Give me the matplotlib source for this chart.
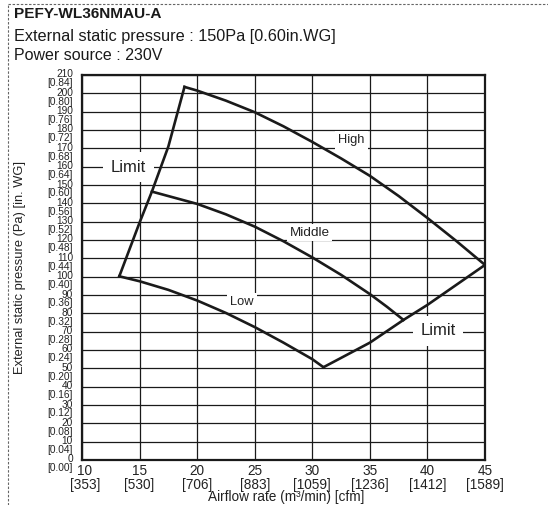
import matplotlib
matplotlib.use("Agg")
import matplotlib.pyplot as plt
import matplotlib.transforms as mtransforms
from matplotlib.lines import Line2D

plt.rcParams["font.family"] = ["Liberation Sans", "DejaVu Sans"]

# fan curve data (airflow m3/min, static pressure Pa)
high_x = [18.9, 20, 22.5, 25, 27.5, 30, 32.5, 35, 37.5, 40, 42.5, 45]
high_y = [203.5, 201.5, 196.0, 189.7, 182.0, 173.5, 164.5, 155.0, 144.0, 132.0, 119.5, 106.4]
middle_x = [16.07, 20, 22.5, 25, 27.5, 30, 32.5, 35, 36.5, 37.92]
middle_y = [146.4, 139.7, 134.0, 127.3, 119.3, 110.5, 101.0, 90.5, 83.5, 76.4]
low_x = [13.24, 15, 17.5, 20, 22.5, 25, 27.5, 30, 30.97]
low_y = [100.2, 97.5, 92.8, 87.0, 80.2, 72.5, 64.0, 55.0, 50.6]
limit_left_x = [13.24, 15, 16.07, 17.5, 18.9]
limit_left_y = [100.2, 129.5, 146.4, 171.0, 203.5]
limit_right_x = [30.97, 35, 37.92, 40, 45]
limit_right_y = [50.6, 64.0, 76.4, 84.6, 106.4]

x_ticks = [10, 15, 20, 25, 30, 35, 40, 45]
x_cfm = [353, 530, 706, 883, 1059, 1236, 1412, 1589]
y_ticks = list(range(0, 211, 10))
y_inwg = [v * 0.004 for v in y_ticks]

W, H = 548, 505
fig = plt.figure(figsize=(W / 100, H / 100), dpi=100)
ax = fig.add_axes([82 / W, 1 - 460 / H, 403 / W, 385 / H])
ax.set_xlim(10, 45)
ax.set_ylim(0, 210)

ax.set_xticks(x_ticks)
ax.set_xticklabels([f"{a}\n[{b}]" for a, b in zip(x_ticks, x_cfm)], fontsize=9.8,
                   linespacing=0.95)
ax.set_yticks(y_ticks)
ax.set_yticklabels([f"{a}\n[{b:.2f}]" for a, b in zip(y_ticks, y_inwg)], fontsize=7.3,
                   linespacing=0.85)
ax.tick_params(axis="both", length=0, colors="#222222")
ax.tick_params(axis="y", pad=6.5)
ax.tick_params(axis="x", pad=3)
shift = mtransforms.ScaledTranslation(0, -3.5 / 100, fig.dpi_scale_trans)
for lbl in ax.get_yticklabels():
    lbl.set_multialignment("right")
    lbl.set_transform(lbl.get_transform() + shift)
xshift = mtransforms.ScaledTranslation(3 / 100, 0, fig.dpi_scale_trans)
ax.get_xticklabels()[0].set_transform(ax.get_xticklabels()[0].get_transform() + xshift)

ax.grid(True, color="#1a1a1a", lw=0.9, zorder=1)
ax.set_axisbelow(True)
for s in ax.spines.values():
    s.set_linewidth(1.6)
    s.set_color("#1a1a1a")

lw = 1.9
for xs, ys in [(high_x, high_y), (middle_x, middle_y), (low_x, low_y),
               (limit_left_x, limit_left_y), (limit_right_x, limit_right_y)]:
    ax.plot(xs, ys, color="#1a1a1a", lw=lw, solid_joinstyle="round", zorder=4)

box = dict(facecolor="white", edgecolor="none", boxstyle="square")
ax.text(14.03, 159.7, "Limit", fontsize=12, ha="center", va="center",
        bbox={**box, "pad": 0.45}, zorder=3, color="#222222")
ax.text(40.95, 70.5, "Limit", fontsize=12, ha="center", va="center",
        bbox={**box, "pad": 0.45}, zorder=3, color="#222222")
ax.text(33.4, 174.3, "High", fontsize=9.3, ha="center", va="center",
        bbox={**box, "pad": 0.25}, zorder=3, color="#222222")
ax.text(29.76, 124.0, "Middle", fontsize=9.7, ha="center", va="center",
        bbox={**box, "pad": 0.2}, zorder=3, color="#222222")
ax.text(23.9, 86.0, "Low", fontsize=9.3, ha="center", va="center",
        bbox={**box, "pad": 0.25}, zorder=3, color="#222222")

fig.text(286 / W, 1 - 497 / H, "Airflow rate (m³/min) [cfm]", fontsize=9.8,
         ha="center", va="center", color="#222222")
fig.text(20 / W, 1 - 267 / H, "External static pressure (Pa) [in. WG]", fontsize=9.3,
         ha="center", va="center", rotation=90, color="#222222")

fig.text(14 / W, 1 - 14 / H, "PEFY-WL36NMAU-A", fontsize=11.1, fontweight="bold",
         ha="left", va="center", color="#1a1a1a")
fig.text(14 / W, 1 - 36 / H, "External static pressure : 150Pa [0.60in.WG]", fontsize=11.7,
         ha="left", va="center", color="#1a1a1a")
fig.text(14 / W, 1 - 55 / H, "Power source : 230V", fontsize=11.5,
         ha="left", va="center", color="#1a1a1a")

# dotted frame (top and left edges)
fig.add_artist(Line2D([7.5 / W, 1], [1 - 3.5 / H, 1 - 3.5 / H], transform=fig.transFigure,
                      color="#666666", lw=0.8, dashes=(2.2, 1.5)))
fig.add_artist(Line2D([7.5 / W, 7.5 / W], [0, 1 - 3.5 / H], transform=fig.transFigure,
                      color="#666666", lw=0.8, dashes=(2.2, 1.5)))

fig.savefig("out.png", dpi=100)
